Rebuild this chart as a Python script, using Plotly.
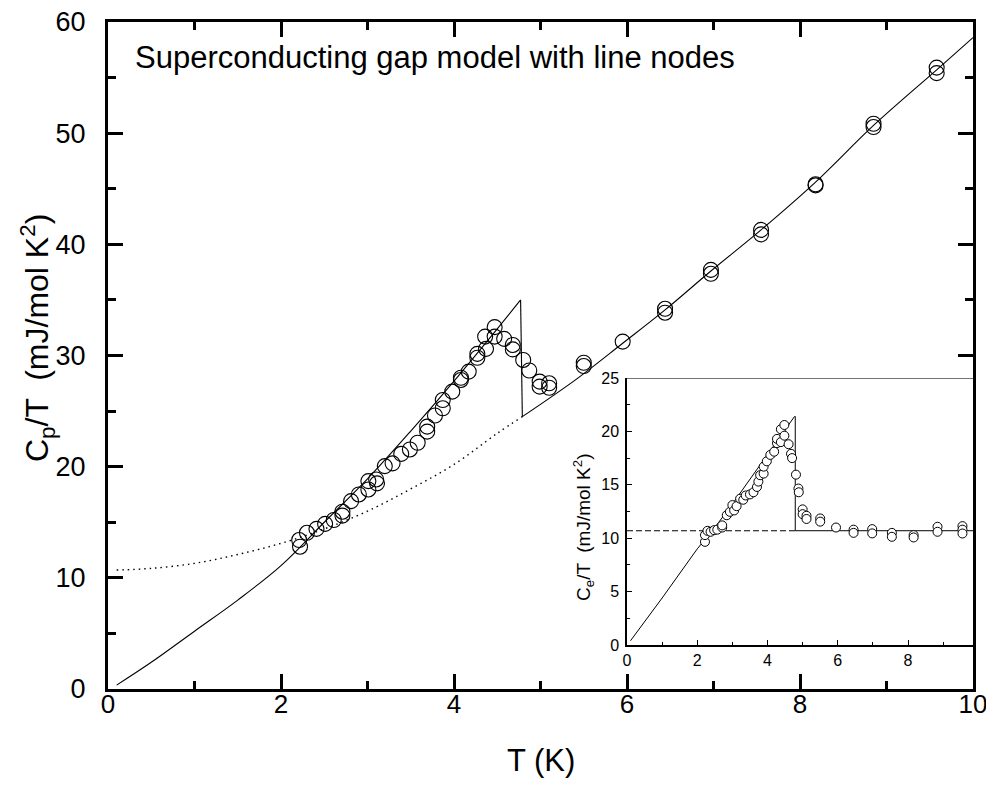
import plotly.graph_objects as go

# ---------------- main panel data ----------------
T_main = [2.21, 2.22, 2.30, 2.41, 2.51, 2.61, 2.71, 2.71, 2.81, 2.90, 3.01, 3.01, 3.10, 3.11,
          3.20, 3.29, 3.39, 3.49, 3.58, 3.69, 3.69, 3.78, 3.87, 3.87, 3.98, 4.08, 4.08, 4.17,
          4.27, 4.27, 4.37, 4.36, 4.47, 4.47, 4.58, 4.68, 4.68, 4.80, 4.87, 4.99, 4.99, 5.10,
          5.10, 5.50, 5.50, 5.95, 6.44, 6.44, 6.97, 6.97, 7.55, 7.55, 8.18, 8.18, 8.85, 8.85,
          9.58, 9.58]
CpT_main = [13.4, 12.8, 14.05, 14.4, 14.85, 15.2, 15.95, 15.6, 16.9, 17.5, 17.95, 18.7, 18.85, 18.5,
            20.05, 20.3, 21.15, 21.55, 22.15, 23.15, 23.6, 24.6, 25.25, 26.0, 26.75, 27.8, 28.0, 28.55,
            30.15, 29.8, 30.6, 31.7, 32.55, 31.7, 31.5, 30.95, 30.55, 29.6, 28.65, 27.65, 27.2, 27.5,
            27.1, 29.35, 29.05, 31.25, 34.2, 33.85, 37.7, 37.35, 41.3, 40.9, 45.4, 45.3, 50.85, 50.55,
            55.9, 55.4]

# superconducting-state fit (solid, below Tc)
T_sc = [0.1, 0.5, 1.0, 1.5, 2.0, 2.5, 3.0, 3.5, 4.0, 4.5, 4.77]
C_sc = [0.35, 2.4, 5.2, 8.0, 11.1, 15.0, 18.9, 23.2, 27.7, 32.4, 35.0]
# jump at Tc
T_jump = [4.77, 4.79]
C_jump = [35.0, 24.5]
# normal-state fit (solid, above Tc)
T_n = [4.79, 5.42, 5.95, 6.44, 6.97, 7.55, 8.18, 8.85, 9.58, 10.0]
C_n = [24.5, 27.9, 31.1, 34.1, 37.6, 41.3, 45.6, 50.7, 55.7, 58.6]
# normal-state extrapolation (dotted, below Tc)
T_dot = [0.1, 0.5, 1.0, 1.5, 2.0, 2.5, 3.0, 3.5, 4.0, 4.5, 4.79]
C_dot = [10.7, 10.85, 11.3, 12.1, 13.1, 14.4, 16.0, 18.0, 20.2, 23.0, 24.5]

# ---------------- inset data ----------------
T_in = [2.22, 2.22, 2.29, 2.38, 2.48, 2.57, 2.71, 2.71, 2.84, 2.93, 3.00, 3.05, 3.12, 3.22,
        3.31, 3.38, 3.50, 3.60, 3.70, 3.74, 3.79, 3.89, 3.89, 3.98, 4.08, 4.19, 4.27, 4.27,
        4.38, 4.38, 4.48, 4.48, 4.60, 4.67, 4.70, 4.81, 4.88, 4.89, 5.00, 5.00, 5.11, 5.11,
        5.50, 5.50, 5.95, 6.45, 6.45, 6.98, 6.98, 7.54, 7.54, 8.16, 8.16, 8.84, 8.84, 9.55,
        9.55, 9.55]
CeT_in = [9.66, 10.29, 10.69, 10.6, 10.75, 10.8, 11.0, 11.2, 12.15, 12.47, 13.1, 12.6, 13.0, 13.7,
          13.6, 14.0, 14.1, 14.3, 14.8, 15.3, 15.9, 16.05, 16.7, 17.2, 17.8, 18.1, 18.9, 19.3,
          19.0, 20.2, 19.6, 20.6, 18.8, 17.9, 17.5, 15.95, 14.65, 14.3, 12.7, 12.25, 12.1, 11.8,
          11.85, 11.55, 11.0, 10.8, 10.5, 10.85, 10.45, 10.5, 10.13, 10.29, 10.07, 11.07, 10.6, 11.13,
          10.8, 10.44]

T_in_fit = [0.1, 1.0, 2.0, 2.2, 2.5, 3.0, 3.5, 4.0, 4.5, 4.77, 4.79, 4.79, 9.85]
C_in_fit = [0.4, 4.4, 9.0, 9.8, 11.0, 13.2, 15.5, 17.9, 20.2, 21.4, 21.4, 10.7, 10.7]
T_in_gamma = [0.0, 4.79]
C_in_gamma = [10.7, 10.7]

FONT = "Liberation Sans, Arial, sans-serif"
BLACK = "black"

fig = go.Figure()

# main panel
fig.add_trace(go.Scatter(x=T_dot, y=C_dot, mode="lines",
                         line=dict(color=BLACK, width=1.4, dash="1.5px,4px", shape="spline"),
                         xaxis="x", yaxis="y", hoverinfo="skip"))
fig.add_trace(go.Scatter(x=T_sc, y=C_sc, mode="lines", line=dict(color=BLACK, width=1.1, shape="spline"),
                         xaxis="x", yaxis="y", hoverinfo="skip"))
fig.add_trace(go.Scatter(x=T_jump, y=C_jump, mode="lines", line=dict(color=BLACK, width=1.1),
                         xaxis="x", yaxis="y", hoverinfo="skip"))
fig.add_trace(go.Scatter(x=T_n, y=C_n, mode="lines", line=dict(color=BLACK, width=1.1, shape="spline"),
                         xaxis="x", yaxis="y", hoverinfo="skip"))
fig.add_trace(go.Scatter(x=T_main, y=CpT_main, mode="markers",
                         marker=dict(symbol="circle-open", size=15, color=BLACK, line=dict(width=1.1)),
                         xaxis="x", yaxis="y"))

# inset
fig.add_trace(go.Scatter(x=T_in_gamma, y=C_in_gamma, mode="lines",
                         line=dict(color=BLACK, width=1.1, dash="6px,3px"),
                         xaxis="x2", yaxis="y2", hoverinfo="skip"))
fig.add_trace(go.Scatter(x=T_in_fit, y=C_in_fit, mode="lines", line=dict(color=BLACK, width=1.0),
                         xaxis="x2", yaxis="y2", hoverinfo="skip"))
fig.add_trace(go.Scatter(x=T_in, y=CeT_in, mode="markers",
                         marker=dict(symbol="circle", size=9, color="white", line=dict(width=1, color=BLACK)),
                         xaxis="x2", yaxis="y2"))

W, H = 994, 785
OFF = 8  # page body offset of the figure inside the browser window
# plot area in window pixels (reference): x 108..973, y 22..689
PX0, PX1, PY0, PY1 = 108, 973, 22, 689
L = PX0 - OFF
Tm = PY0 - OFF
pw = PX1 - PX0
ph = PY1 - PY0
R = W - L - pw
B = H - Tm - ph


def px(xw):
    return (xw - PX0) / pw


def py(yw):
    return (PY1 - yw) / ph


in_x0 = px(627)
in_y0 = py(645)
in_y1 = py(378)

fig.update_layout(
    width=W, height=H,
    margin=dict(l=L, r=R, t=Tm, b=B, pad=0, autoexpand=False),
    paper_bgcolor="white", plot_bgcolor="white",
    showlegend=False,
    font=dict(family=FONT, color=BLACK),
    xaxis=dict(domain=[0, 1], range=[0, 10], tickmode="array", tickvals=[0, 2, 4, 6, 8, 10], automargin=False,
               showgrid=False, zeroline=False, showline=True, linewidth=3, linecolor=BLACK,
               mirror="allticks", ticks="inside", ticklen=15, tickwidth=2.5, tickcolor=BLACK,
               minor=dict(tickvals=[1, 3, 5, 7, 9], ticks="inside", ticklen=8, tickwidth=2.5, tickcolor=BLACK),
               tickfont=dict(size=26, family=FONT), ticklabelstandoff=-10, ticklabeloverflow="allow"),
    yaxis=dict(domain=[0, 1], range=[0, 60], tickmode="array", tickvals=[0, 10, 20, 30, 40, 50, 60], automargin=False,
               showgrid=False, zeroline=False, showline=True, linewidth=3, linecolor=BLACK,
               mirror="allticks", ticks="inside", ticklen=15, tickwidth=2.5, tickcolor=BLACK,
               minor=dict(tickvals=[5, 15, 25, 35, 45, 55], ticks="inside", ticklen=8, tickwidth=2.5, tickcolor=BLACK),
               tickfont=dict(size=27, family=FONT), ticklabelstandoff=14, ticklabeloverflow="allow"),
    xaxis2=dict(domain=[in_x0, 1], anchor="y2", range=[0, 9.85], tickmode="array", tickvals=[0, 2, 4, 6, 8], automargin=False,
                showgrid=False, zeroline=False, showline=True, linewidth=1.5, linecolor=BLACK,
                ticks="inside", ticklen=5, tickwidth=1.3, tickcolor=BLACK,
                minor=dict(tickvals=[1, 3, 5, 7, 9], ticks="inside", ticklen=3, tickwidth=1.3, tickcolor=BLACK),
                tickfont=dict(size=16, family=FONT), ticklabelstandoff=0, ticklabeloverflow="allow"),
    yaxis2=dict(domain=[in_y0, in_y1], anchor="x2", range=[0, 25], tickmode="array", tickvals=[0, 5, 10, 15, 20, 25], automargin=False,
                showgrid=False, zeroline=False, showline=True, linewidth=1.5, linecolor=BLACK,
                ticks="inside", ticklen=5, tickwidth=1.3, tickcolor=BLACK,
                minor=dict(tickvals=[2.5, 7.5, 12.5, 17.5, 22.5], ticks="inside", ticklen=3, tickwidth=1.3, tickcolor=BLACK),
                tickfont=dict(size=16, family=FONT), ticklabelstandoff=3, ticklabeloverflow="allow"),
)

# inset top border line at y=25
fig.add_shape(type="line", xref="x2", yref="y2", x0=0, x1=9.85, y0=25, y1=25,
              line=dict(color="#444444", width=1.5))

fig.add_annotation(text="Superconducting gap model with line nodes", xref="paper", yref="paper",
                   x=px(133), y=py(58), xanchor="left", yanchor="middle",
                   showarrow=False, font=dict(size=31, family=FONT, color=BLACK))
fig.add_annotation(text="T (K)", xref="paper", yref="paper", x=px(541), y=py(760),
                   xanchor="center", yanchor="middle", showarrow=False,
                   font=dict(size=31, family=FONT, color=BLACK))
fig.add_annotation(text="C<sub>p</sub>/T  (mJ/mol K<sup>2</sup>)", xref="paper", yref="paper",
                   x=px(38), y=py(338), xanchor="center", yanchor="middle",
                   textangle=-90, showarrow=False, font=dict(size=32, family=FONT, color=BLACK))
fig.add_annotation(text="C<sub>e</sub>/T  (mJ/mol K<sup>2</sup>)", xref="paper", yref="paper",
                   x=px(583), y=py(528), xanchor="center", yanchor="middle",
                   textangle=-90, showarrow=False, font=dict(size=19, family=FONT, color=BLACK))

fig.write_html("out.html")
